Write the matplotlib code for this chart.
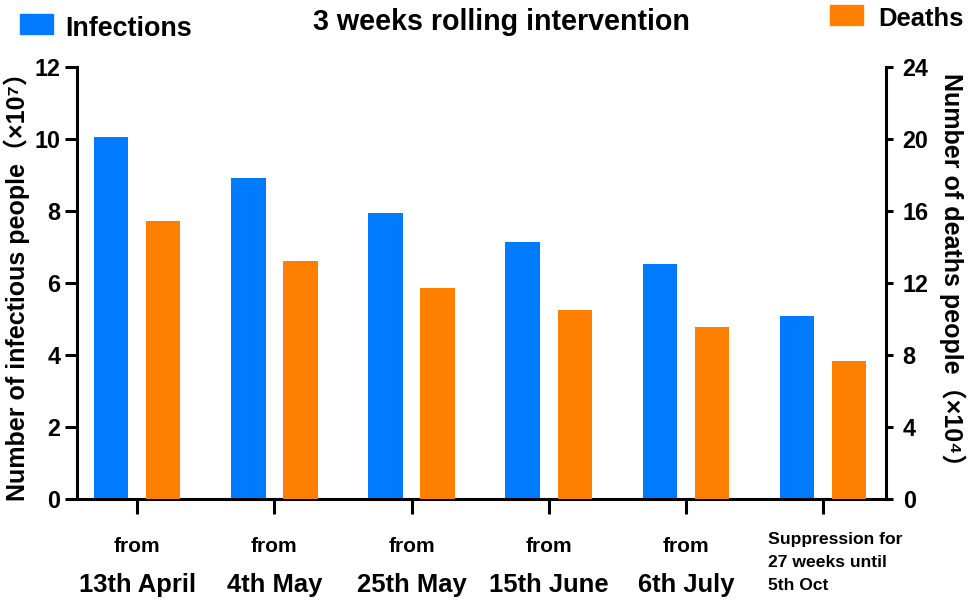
import matplotlib
matplotlib.use('Agg')
import matplotlib.pyplot as plt
from matplotlib import font_manager
from matplotlib.patches import Rectangle

# data (infections in 1e7, deaths in 1e4)
groups = ['13th April', '4th May', '25th May', '15th June', '6th July',
          'Suppression for\n27 weeks until\n5th Oct']
prefix = ['from', 'from', 'from', 'from', 'from', '']
infections = [10.05, 8.93, 7.95, 7.14, 6.52, 5.09]
deaths = [15.45, 13.22, 11.74, 10.52, 9.58, 7.66]

blue = '#007AFF'
orange = '#FF8000'

# narrow bold font if we have it, otherwise shrink regular one
names = {f.name for f in font_manager.fontManager.ttflist}
if 'Liberation Sans Narrow' in names:
    narrow, k = 'Liberation Sans Narrow', 1.0
else:
    narrow, k = 'Liberation Sans', 0.84
wide = ['Liberation Sans', 'Noto Sans CJK SC', 'DejaVu Sans']

plt.rcParams['font.family'] = [narrow, 'DejaVu Sans']
plt.rcParams['font.weight'] = 'bold'

fig = plt.figure(figsize=(9.68, 6.08), dpi=100)
ax = fig.add_axes([0.0795, 0.1793, 0.8358, 0.7105])
ax2 = ax.twinx()

x = list(range(len(groups)))
ax.bar([i - 0.19 for i in x], infections, width=0.25, color=blue)
ax2.bar([i + 0.19 for i in x], deaths, width=0.25, color=orange)

ax.set_xlim(-0.44, 5.46)
ax.set_ylim(0, 12)
ax2.set_ylim(0, 24)
ax.set_yticks(range(0, 13, 2))
ax2.set_yticks(range(0, 25, 4))
ax.set_xticks(x)
ax.set_xticklabels([''] * len(x))

for s in ['top', 'right']:
    ax.spines[s].set_visible(False)
for s in ['top', 'left', 'bottom']:
    ax2.spines[s].set_visible(False)
for s in ax.spines.values():
    s.set_linewidth(2.2)
for s in ax2.spines.values():
    s.set_linewidth(2.2)

ax.tick_params(axis='y', length=8.5, width=2.2, pad=3.5, labelsize=20 * k)
ax.tick_params(axis='x', length=11, width=2.2)
ax2.tick_params(axis='y', length=5, width=2.2, pad=7, labelsize=20 * k)

ax.set_ylabel('Number of infectious people（×10⁷）', family=wide,
              fontsize=18, fontweight='bold', va='center')
ax.yaxis.set_label_coords(-0.074, 0.505)
ax2.set_ylabel('Number of deaths people（×10⁴）', family=wide,
               fontsize=18, fontweight='bold', rotation=270, va='center')
ax2.yaxis.set_label_coords(1.0816, 0.518)

# two-line category labels
trans = ax.get_xaxis_transform()
for i, (p, g) in enumerate(zip(prefix, groups)):
    if p:
        ax.text(i, -0.1227, p, transform=trans, ha='center', va='baseline',
                fontsize=18 * k)
        ax.text(i, -0.2153, g, transform=trans, ha='center', va='baseline',
                fontsize=22 * k)
    else:
        ax.text(i - 0.40, -0.0764, g, transform=trans, ha='left', va='top',
                fontsize=15 * k, linespacing=1.65)

# title and legend
fig.text(0.5176, 0.9507, '3 weeks rolling intervention', ha='center',
         va='baseline', fontsize=24.5 * k)
fig.patches.append(Rectangle((20 / 968, 1 - 34 / 608), 33 / 968, 20 / 608,
                             transform=fig.transFigure, color=blue))
fig.text(65 / 968, 1 - 36.5 / 608, 'Infections', ha='left', va='baseline',
         fontsize=23 * k)
fig.patches.append(Rectangle((830 / 968, 1 - 25 / 608), 33 / 968, 20 / 608,
                             transform=fig.transFigure, color=orange))
fig.text(878 / 968, 1 - 26 / 608, 'Deaths', ha='left', va='baseline',
         fontsize=22 * k)

fig.savefig('out.png', dpi=100)
